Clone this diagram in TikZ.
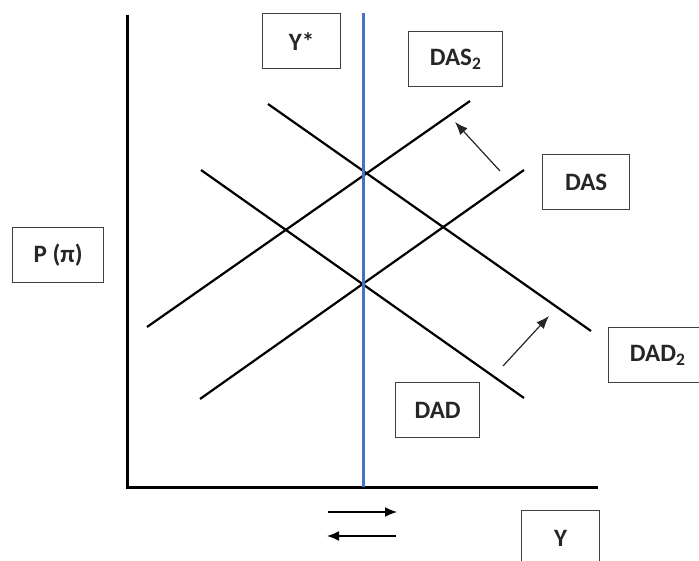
\documentclass[tikz,border=0pt]{standalone}
\usepackage{fontspec}
\setmainfont{Carlito}
\usetikzlibrary{arrows.meta}
\begin{document}
\begin{tikzpicture}[x=1pt,y=-1pt,
  lbl/.style={draw=black!75, line width=1.3pt, fill=white, font=\bfseries\fontsize{25}{29}\selectfont, text=black!85, anchor=north west, inner sep=0pt, minimum height=55pt},
  curve/.style={line width=2.2pt, black},
  axisline/.style={line width=3pt, black},
  shiftarrow/.style={line width=1.2pt, black!85, -{Latex[length=13pt,width=10pt]}},
  moveleft/.style={line width=1.4pt, black, -{Latex[length=12pt,width=10pt]}}]
\useasboundingbox (0,0) rectangle (699,561);
\clip (0,0) rectangle (699,561);
% axes
\coordinate (top) at (127,15);
\coordinate (origin) at (127,487);
\coordinate (xend) at (598,487);
\draw[axisline] (top) -- (origin) -- (xend);
% curves
\coordinate (das2a) at (147,327); \coordinate (das2b) at (470,101);
\coordinate (dasa) at (200,399);  \coordinate (dasb) at (524,170);
\coordinate (dad2a) at (268,104); \coordinate (dad2b) at (591,331);
\coordinate (dada) at (201,170);  \coordinate (dadb) at (524,398);
\draw[curve] (das2a) -- (das2b);
\draw[curve] (dasa) -- (dasb);
\draw[curve] (dad2a) -- (dad2b);
\draw[curve] (dada) -- (dadb);
% potential output
\coordinate (ystartop) at (363,13);
\coordinate (ystarbot) at (363,487);
\draw[line width=3pt, color={rgb,255:red,68;green,114;blue,196}] (ystartop) -- (ystarbot);
% shift arrows
\coordinate (s1a) at (500,171); \coordinate (s1b) at (455,122);
\coordinate (s2a) at (503,366); \coordinate (s2b) at (549,316);
\draw[shiftarrow] (s1a) -- (s1b);
\draw[shiftarrow] (s2a) -- (s2b);
% bottom arrows
\coordinate (r1a) at (328,512); \coordinate (r1b) at (397,512);
\coordinate (l1a) at (396,536); \coordinate (l1b) at (327,536);
\draw[moveleft] (r1a) -- (r1b);
\draw[moveleft] (l1a) -- (l1b);
% labels
\node[lbl, minimum width=78pt] (ystar) at (262,13) {Y*};
\node[lbl, minimum width=94pt] (das2) at (408,31) {DAS\textsubscript{2}};
\node[lbl, minimum width=91pt] (p) at (12,227) {P (π)};
\node[lbl, minimum width=87pt] (das) at (542,154) {DAS};
\node[lbl, minimum width=98pt] (dad2) at (608,327) {DAD\textsubscript{2}};
\node[lbl, minimum width=84pt] (dad) at (395,382) {DAD};
\node[lbl, minimum width=78pt] (y) at (521,510) {Y};
\end{tikzpicture}
\end{document}
